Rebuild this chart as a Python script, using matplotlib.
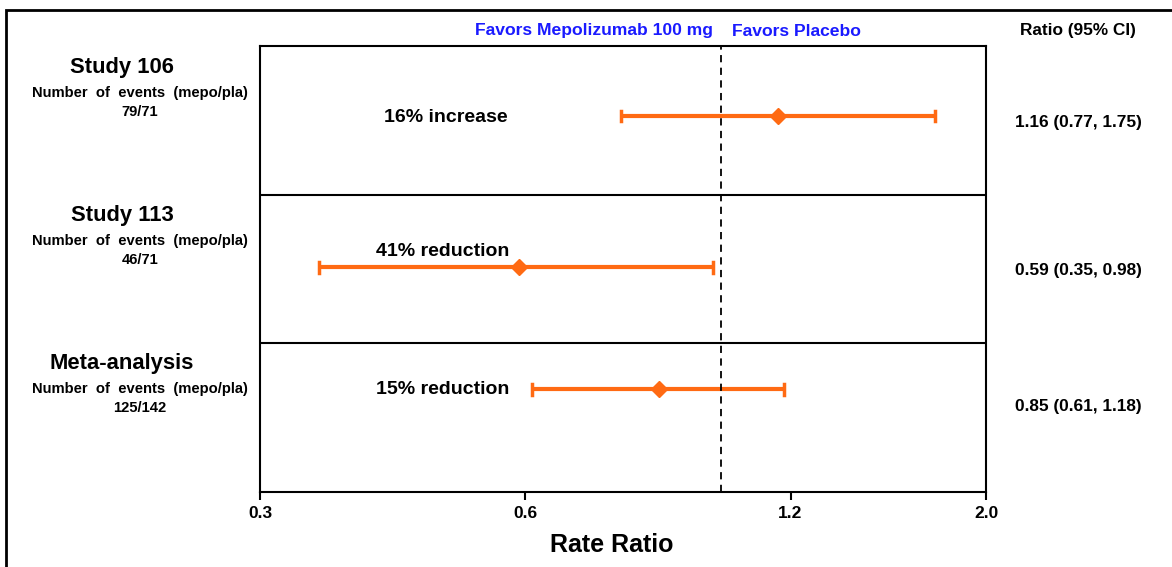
import matplotlib
matplotlib.use("Agg")
from matplotlib import pyplot as plt
from matplotlib.patches import Rectangle
from matplotlib.ticker import FixedLocator, NullLocator

plt.rcParams['font.family'] = ['Liberation Sans', 'DejaVu Sans']

studies = ["Study 106", "Study 113", "Meta-analysis"]
events = ["79/71", "46/71", "125/142"]
ratio = [1.16, 0.59, 0.85]
lower = [0.77, 0.35, 0.61]
upper = [1.75, 0.98, 1.18]
effect_text = ["16% increase", "41% reduction", "15% reduction"]
ticks = [0.3, 0.6, 1.2, 2.0]
tick_labels = ["0.3", "0.6", "1.2", "2.0"]

orange = "#ff6a13"
fig = plt.figure(figsize=(11.72, 5.67), dpi=100)
ax = fig.add_axes([0.2218, 0.1323, 0.6195, 0.7866])

# outer frame of the whole figure (cut off at right / bottom)
fig.patches.append(Rectangle((0.005, -0.05), 1.1, 1.032, transform=fig.transFigure,
                             fill=False, lw=2, edgecolor="black"))

ax.set_xscale("log")
ax.set_xlim(0.3, 2.0)
ax.set_ylim(0, 3)

# row y positions (top row first)
ypos = [2.53, 1.51, 0.69]
for i in range(3):
    ax.plot([lower[i], upper[i]], [ypos[i], ypos[i]], color=orange, lw=3,
            solid_capstyle="butt")
    ax.plot([lower[i]] * 2, [ypos[i] - 0.035, ypos[i] + 0.035], color=orange, lw=2.5)
    ax.plot([upper[i]] * 2, [ypos[i] - 0.035, ypos[i] + 0.035], color=orange, lw=2.5)
    ax.plot(ratio[i], ypos[i], marker="D", color=orange, ms=8)

ax.axvline(1.0, color="black", ls=(0, (4, 3)), lw=1.3)
ax.axhline(1, color="black", lw=1.5)
ax.axhline(2, color="black", lw=1.5)

for sp in ax.spines.values():
    sp.set_linewidth(1.5)

ax.xaxis.set_major_locator(FixedLocator(ticks))
ax.xaxis.set_minor_locator(NullLocator())
ax.set_xticklabels(tick_labels, fontsize=12.5, fontweight="bold")
ax.tick_params(axis="x", length=6, width=1.5, pad=4)
ax.set_yticks([])
ax.set_xlabel("Rate Ratio", fontsize=18, fontweight="bold")
ax.xaxis.set_label_coords(0.485, -0.092)

# effect labels inside the plot
eff_y = [2.52, 1.615, 0.687]
eff_x = [0.256, 0.251, 0.251]
for i in range(3):
    ax.text(eff_x[i], eff_y[i], effect_text[i], fontsize=14, fontweight="bold",
            ha="center", va="center", transform=ax.get_yaxis_transform())

# left side labels
left_top = [67, 215, 363]
for i in range(3):
    y0 = left_top[i]
    fig.text(122 / 1172, 1 - y0 / 567, studies[i], fontsize=15.8, fontweight="bold",
             ha="center", va="center")
    fig.text(140 / 1172, 1 - (y0 + 26) / 567, "Number  of  events  (mepo/pla)", fontsize=10.6,
             fontweight="bold", ha="center", va="center")
    fig.text(140 / 1172, 1 - (y0 + 45) / 567, events[i], fontsize=10.6,
             fontweight="bold", ha="center", va="center")

# right side ratio text
right_y = [122, 270, 407]
for i in range(3):
    fig.text(1078 / 1172, 1 - right_y[i] / 567,
             "%.2f (%.2f, %.2f)" % (ratio[i], lower[i], upper[i]),
             fontsize=12.4, fontweight="bold", ha="center", va="center")
fig.text(1078 / 1172, 1 - 30 / 567, "Ratio (95% CI)", fontsize=12.4,
         fontweight="bold", ha="center", va="center")

fig.text(713 / 1172, 1 - 31 / 567, "Favors Mepolizumab 100 mg", fontsize=12.6,
         fontweight="bold", color="#1a1aff", ha="right", va="center")
fig.text(732 / 1172, 1 - 31 / 567, "Favors Placebo", fontsize=12.6,
         fontweight="bold", color="#1a1aff", ha="left", va="center")

plt.savefig("out.png", dpi=100)
